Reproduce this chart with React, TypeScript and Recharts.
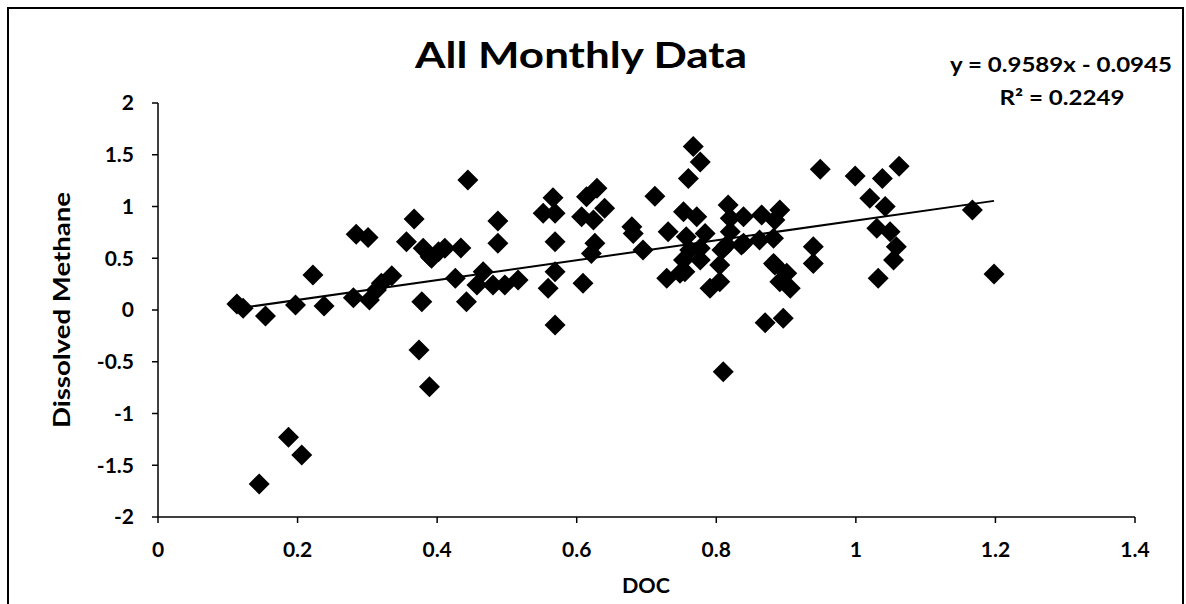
import { ScatterChart, Scatter, XAxis, YAxis, ReferenceLine } from 'recharts'

// DOC (x) and dissolved methane (y)
const doc = [
  0.113, 0.122, 0.154, 0.197, 0.222, 0.238, 0.284, 0.280, 0.301, 0.303,
  0.313, 0.320, 0.335, 0.367, 0.356, 0.378, 0.374, 0.389, 0.380, 0.390,
  0.402, 0.411, 0.187, 0.206, 0.145, 0.444, 0.392, 0.434, 0.487, 0.487,
  0.566, 0.552, 0.569, 0.569, 0.629, 0.614, 0.607, 0.624, 0.640, 0.626,
  0.621, 0.712, 0.679, 0.681, 0.695, 0.760, 0.767, 0.777, 0.753, 0.731,
  0.729, 0.748, 0.426, 0.466, 0.457, 0.480, 0.497, 0.516, 0.442, 0.569,
  0.559, 0.609, 0.569, 0.772, 0.817, 0.839, 0.865, 0.891, 0.884, 0.949,
  0.999, 1.038, 1.062, 1.020, 1.042, 1.030, 1.049, 1.058, 1.054, 1.032,
  0.939, 0.939, 0.882, 0.901, 0.906, 0.891, 0.870, 0.896, 0.810, 0.805,
  0.791, 0.805, 0.755, 0.777, 0.757, 0.784, 0.820, 0.839, 0.862, 0.882,
  0.808, 0.777, 0.820, 1.167, 1.198, 0.762, 0.753, 0.815, 0.836, 0.884,
]
const methane = [
  0.058, 0.016, -0.058, 0.048, 0.338, 0.039, 0.731, 0.119, 0.700, 0.097,
  0.193, 0.258, 0.330, 0.879, 0.660, 0.080, -0.386, -0.741, 0.596, 0.515,
  0.564, 0.596, -1.230, -1.400, -1.680, 1.256, 0.500, 0.600, 0.860, 0.644,
  1.085, 0.934, 0.934, 0.660, 1.176, 1.095, 0.900, 0.870, 0.983, 0.644,
  0.547, 1.100, 0.805, 0.740, 0.580, 1.270, 1.580, 1.430, 0.950, 0.757,
  0.306, 0.354, 0.306, 0.370, 0.242, 0.242, 0.242, 0.290, 0.080, 0.370,
  0.210, 0.258, -0.145, 0.900, 1.014, 0.900, 0.918, 0.966, 0.870, 1.360,
  1.295, 1.270, 1.390, 1.080, 1.000, 0.790, 0.757, 0.612, 0.483, 0.306,
  0.612, 0.450, 0.450, 0.354, 0.210, 0.274, -0.123, -0.080, -0.596, 0.435,
  0.210, 0.274, 0.370, 0.483, 0.708, 0.740, 0.757, 0.644, 0.676, 0.693,
  0.580, 0.596, 0.886, 0.966, 0.348, 0.580, 0.483, 0.628, 0.628, 0.435,
]

const xTicks = [0, 0.2, 0.4, 0.6, 0.8, 1, 1.2, 1.4]
const yTicks = [-2, -1.5, -1, -0.5, 0, 0.5, 1, 1.5, 2]

// linear trendline from the fitted equation
const slope = 0.9589
const intercept = -0.0945
const r2 = 0.2249

const points = doc.map((x, i) => ({ x, y: methane[i] }))
const xMin = Math.min(...doc)
const xMax = Math.max(...doc)
const trend = [xMin, xMax].map(x => ({ x, y: slope * x + intercept }))

function Diamond(props: any) {
  const { cx, cy } = props
  const r = 10.5
  return (
    <polygon
      points={`${cx},${cy - r} ${cx + r},${cy} ${cx},${cy + r} ${cx - r},${cy}`}
      fill="#000"
    />
  )
}

const tickStyle = { fill: '#000', fontSize: 21, fontWeight: 700 }

export default function App() {
  return (
    <div style={{ position: 'absolute', left: 0, top: 0, width: 1186, height: 604, background: '#fff', fontFamily: 'Lato, sans-serif', overflow: 'hidden' }}>
      <div style={{ position: 'absolute', left: 7, top: 7, width: 1177, height: 620, border: '2px solid #000', boxSizing: 'border-box' }} />
      <ScatterChart width={1186} height={604} margin={{ top: 103, right: 51, bottom: 7, left: 40 }}>
        <XAxis
          type="number"
          dataKey="x"
          domain={[0, 1.4]}
          ticks={xTicks}
          height={80}
          stroke="#000"
          strokeWidth={1.5}
          tickSize={6}
          tickMargin={19}
          tick={tickStyle}
        />
        <YAxis
          type="number"
          dataKey="y"
          domain={[-2, 2]}
          ticks={yTicks}
          width={118}
          stroke="#000"
          strokeWidth={1.5}
          tickSize={6}
          tickMargin={18}
          tick={tickStyle}
        />
        <Scatter data={points} shape={Diamond} isAnimationActive={false} />
        <ReferenceLine segment={trend} stroke="#000" strokeWidth={2} />
      </ScatterChart>
      <svg width={1186} height={604} style={{ position: 'absolute', left: 0, top: 0, pointerEvents: 'none' }}>
        <text x={581} y={68} textAnchor="middle" fontSize={36} fontWeight={700} fill="#000" textLength={332} lengthAdjust="spacingAndGlyphs">All Monthly Data</text>
        <text x={1061} y={72} textAnchor="middle" fontSize={20} fontWeight={700} fill="#000" textLength={222} lengthAdjust="spacingAndGlyphs">{`y = ${slope}x - ${Math.abs(intercept)}`}</text>
        <text x={1062} y={105} textAnchor="middle" fontSize={20} fontWeight={700} fill="#000" textLength={125} lengthAdjust="spacingAndGlyphs">{`R² = ${r2}`}</text>
        <text x={646} y={593} textAnchor="middle" fontSize={21} fontWeight={700} fill="#000" textLength={48} lengthAdjust="spacingAndGlyphs">DOC</text>
        <text x={62} y={318} transform="rotate(-90, 62, 310)" textAnchor="middle" fontSize={22} fontWeight={700} fill="#000" textLength={236} lengthAdjust="spacingAndGlyphs">Dissolved Methane</text>
      </svg>
    </div>
  )
}
